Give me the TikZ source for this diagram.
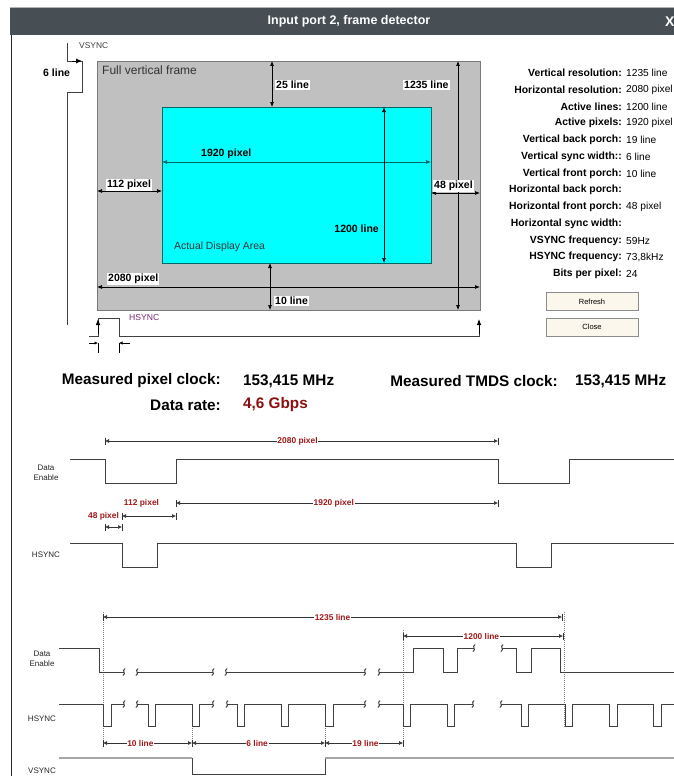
\documentclass[tikz,border=0pt]{standalone}
\usepackage{fontspec}
\setmainfont{Liberation Sans}
\usetikzlibrary{arrows.meta}
\definecolor{titlebar}{HTML}{474F54}
\definecolor{framegray}{HTML}{C0C0C0}
\definecolor{frameedge}{HTML}{7A7A7A}
\definecolor{dimred}{HTML}{A01818}
\definecolor{valred}{HTML}{8B1010}
\definecolor{tealedge}{HTML}{006666}
\definecolor{areacyan}{HTML}{00FFFF}
\definecolor{btnfill}{HTML}{FCF7EC}
\definecolor{syncpurple}{HTML}{7A2A7A}
\newcommand{\wbrk}[2]{\draw[wv, line width=1pt] (#1-1.2,#2+3.5) .. controls (#1+3,#2+1.5) and (#1-3,#2-1.5) .. (#1+1.2,#2-3.5);}
\newcommand{\tdim}[6]{%
  \draw[dimln] (#1,#3) -- node[dimlbl, pos=#6] (#5) {#4} (#2,#3);
  \draw[dimbar] (#1,#3-3.5) -- (#1,#3+3.5);
  \draw[dimbar] (#2,#3-3.5) -- (#2,#3+3.5);}
\newcommand{\tdimn}[3]{%
  \draw[dimln] (#1,#3) -- (#2,#3);
  \draw[dimbar] (#1,#3-3.5) -- (#1,#3+3.5);
  \draw[dimbar] (#2,#3-3.5) -- (#2,#3+3.5);}
\begin{document}
\begin{tikzpicture}[x=1pt,y=-1pt,
  wv/.style={draw=black!75, line width=0.9pt},
  dimtop/.style={line width=0.7pt, {Latex[length=5pt,width=4pt]}-{Latex[length=5pt,width=4pt]}},
  toplbl/.style={font=\bfseries\fontsize{10.5}{12}\selectfont, inner sep=1pt},
  bgl/.style={toplbl, fill=white},
  tlbl/.style={font=\fontsize{8}{10}\selectfont, text=black!85, align=center, inner sep=0},
  dimln/.style={line width=0.6pt, black!80, {Latex[length=4pt,width=4pt]}-{Latex[length=4pt,width=4pt]}},
  dimbar/.style={line width=0.8pt, black!80},
  dimlbl/.style={font=\bfseries\fontsize{8.4}{10}\selectfont, text=dimred, fill=white, inner sep=0.8pt},
  dotl/.style={draw=gray, line width=0.6pt, dash pattern=on 1pt off 1pt},
  tabl/.style={font=\bfseries\fontsize{10.4}{12}\selectfont, anchor=east, inner sep=0},
  tabv/.style={font=\fontsize{10.2}{12}\selectfont, anchor=west, inner sep=0},
  btn/.style={draw=black!45, fill=btnfill, minimum width=92pt, minimum height=18pt, font=\fontsize{7.5}{9}\selectfont, inner sep=0},
  bigtxt/.style={font=\bfseries\fontsize{15.3}{18}\selectfont, inner sep=0}]
\useasboundingbox (0,0) rectangle (674,776);
\fill[white] (0,0) rectangle (674,776);
% window
\fill[titlebar] (10,8) rectangle (674,35);
\draw[black!30, line width=0.8pt] (10,7) -- (674,7);
\draw[black!85, line width=1.4pt] (11.5,35) -- (11.5,776);
\node[font=\bfseries\fontsize{12.5}{14}\selectfont, text=white] (title) at (349,21.5) {Input port 2, frame detector};
\node[font=\bfseries\fontsize{14}{16}\selectfont, text=white, anchor=west, inner sep=0] (closex) at (665,22) {X};
% top VSYNC
\node[font=\fontsize{8.4}{10}\selectfont, anchor=west, inner sep=0, text=black!75] (vsynclbl) at (79,46) {VSYNC};
\draw[wv, line width=0.8pt] (67,43) -- (67,61) -- (82,61) -- (82,92) -- (67,92) -- (67,325);
\coordinate (va) at (72,61); \coordinate (vb) at (82,61);
\draw[-{Latex[length=6pt,width=5pt]}, line width=0.8pt] (va) -- (vb);
\node[toplbl, anchor=west] (sixline) at (42,73) {6 line};
% frame
\draw[fill=framegray, draw=frameedge, line width=0.8pt] (97,61) rectangle (480,310);
\node[font=\fontsize{12}{14}\selectfont, anchor=west, text=black!80, inner sep=0] (fvf) at (102,70) {Full vertical frame};
\draw[fill=areacyan, draw=tealedge, line width=0.8pt] (162,107) rectangle (431,263);
\node[font=\fontsize{10.4}{12}\selectfont, anchor=west, inner sep=0, text=black!80] (ada) at (174,247) {Actual Display Area};
\coordinate (a25t) at (272,61); \coordinate (a25b) at (272,107);
\draw[dimtop] (a25t) -- (a25b);
\node[bgl, anchor=west] (l25) at (275,85) {25 line};
\coordinate (a1235t) at (458,61); \coordinate (a1235b) at (458,310);
\draw[dimtop] (a1235t) -- (a1235b);
\node[bgl, anchor=west] (l1235) at (403,85) {1235 line};
\coordinate (a1920l) at (162,162); \coordinate (a1920r) at (431,162);
\draw[dimtop, tealedge] (a1920l) -- (a1920r);
\node[toplbl, anchor=west] (l1920) at (200,154) {1920 pixel};
\coordinate (a1200t) at (384,107); \coordinate (a1200b) at (384,263);
\draw[dimtop] (a1200t) -- (a1200b);
\node[toplbl, anchor=east] (l1200) at (380,229) {1200 line};
\coordinate (a112l) at (97,191); \coordinate (a112r) at (162,191);
\draw[dimtop] (a112l) -- (a112r);
\node[bgl, anchor=west] (l112) at (106,185) {112 pixel};
\coordinate (a48l) at (431,193); \coordinate (a48r) at (480,193);
\draw[dimtop] (a48l) -- (a48r);
\node[bgl, anchor=west] (l48) at (433,186) {48 pixel};
\coordinate (a2080l) at (97,287); \coordinate (a2080r) at (480,287);
\draw[dimtop] (a2080l) -- (a2080r);
\node[bgl, anchor=west] (l2080) at (107,279) {2080 pixel};
\coordinate (a10t) at (270,263); \coordinate (a10b) at (270,310);
\draw[dimtop] (a10t) -- (a10b);
\node[bgl, anchor=west] (l10) at (274,301) {10 line};
% small HSYNC
\node[font=\fontsize{8.6}{10}\selectfont, anchor=west, inner sep=0, text=syncpurple] (hsynclbl) at (129,318) {HSYNC};
\draw[wv, line width=0.8pt] (89,336) -- (98,336) -- (98,318) -- (119,318) -- (119,336) -- (479,336) -- (479,321);
\coordinate (h1a) at (98,334); \coordinate (h1b) at (98,319);
\draw[-{Latex[length=6pt,width=4.5pt]}, line width=0.8pt] (h1a) -- (h1b);
\coordinate (h2a) at (479,334); \coordinate (h2b) at (479,319);
\draw[-{Latex[length=6pt,width=4.5pt]}, line width=0.8pt] (h2a) -- (h2b);
\draw[line width=0.8pt] (98,343) -- (98,353) (119,343) -- (119,353);
\coordinate (t1a) at (89,343); \coordinate (t1b) at (98,343);
\draw[-{Latex[length=3.5pt,width=3.5pt]}, line width=0.7pt] (t1a) -- (t1b);
\coordinate (t2a) at (130,343); \coordinate (t2b) at (119,343);
\draw[-{Latex[length=3.5pt,width=3.5pt]}, line width=0.7pt] (t2a) -- (t2b);
% right table
\node[tabl] (k1) at (622,73) {Vertical resolution:};      \node[tabv] (v1) at (626,73) {1235 line};
\node[tabl] (k2) at (622,89.75) {Horizontal resolution:}; \node[tabv] (v2) at (626,89.75) {2080 pixel};
\node[tabl] (k3) at (622,106.5) {Active lines:};          \node[tabv] (v3) at (626,106.5) {1200 line};
\node[tabl] (k4) at (622,123.25) {Active pixels:};        \node[tabv] (v4) at (626,123.25) {1920 pixel};
\node[tabl] (k5) at (622,140) {Vertical back porch:};     \node[tabv] (v5) at (626,140) {19 line};
\node[tabl] (k6) at (622,156.75) {Vertical sync width::}; \node[tabv] (v6) at (626,156.75) {6 line};
\node[tabl] (k7) at (622,173.5) {Vertical front porch:};  \node[tabv] (v7) at (626,173.5) {10 line};
\node[tabl] (k8) at (622,190.25) {Horizontal back porch:};
\node[tabl] (k9) at (622,207) {Horizontal front porch:};  \node[tabv] (v9) at (626,207) {48 pixel};
\node[tabl] (k10) at (622,223.75) {Horizontal sync width:};
\node[tabl] (k11) at (622,240.5) {VSYNC frequency:};      \node[tabv] (v11) at (626,240.5) {59Hz};
\node[tabl] (k12) at (622,257.25) {HSYNC frequency:};     \node[tabv] (v12) at (626,257.25) {73,8kHz};
\node[tabl] (k13) at (622,274) {Bits per pixel:};         \node[tabv] (v13) at (626,274) {24};
\node[btn] (refresh) at (592,301.5) {Refresh};
\node[btn] (close) at (592,327) {Close};
% measurements
\node[bigtxt, anchor=east] (mpcl) at (221,381) {Measured pixel clock:};
\node[bigtxt, anchor=west] (mpcv) at (243,381) {153,415 MHz};
\node[bigtxt, anchor=east] (drl) at (221,405) {Data rate:};
\node[bigtxt, anchor=west, text=valred] (drv) at (243,405) {4,6 Gbps};
\node[bigtxt, anchor=east] (mtl) at (558,381) {Measured TMDS clock:};
\node[bigtxt, anchor=west] (mtv) at (575,381) {153,415 MHz};
% timing diagram 1
\tdim{105}{498}{441}{2080 pixel}{d2080}{0.49}
\node[tlbl] (de1) at (46,472.5) {Data\\Enable};
\draw[wv] (70,459) -- (105,459) -- (105,483) -- (176,483) -- (176,459) -- (498,459) -- (498,483) -- (569,483) -- (569,459) -- (674,459);
\tdim{176}{498}{503}{1920 pixel}{d1920}{0.49}
\node[dimlbl] (l112b) at (141.5,503) {112 pixel};
\tdimn{122}{176}{516}
\node[dimlbl] (l48b) at (103.5,516) {48 pixel};
\tdimn{105}{122}{527}
\node[tlbl] (hs1) at (46,555) {HSYNC};
\draw[wv] (70,543) -- (122,543) -- (122,567) -- (157,567) -- (157,543) -- (516,543) -- (516,567) -- (551,567) -- (551,543) -- (674,543);
% timing diagram 2
\draw[dotl] (103,612) -- (103,748);
\draw[dotl] (192,704) -- (192,748);
\draw[dotl] (325,704) -- (325,748);
\draw[dotl] (403,630) -- (403,748);
\draw[dotl] (564,612) -- (564,728);
\tdim{103}{562}{617}{1235 line}{d1235}{0.5}
\tdim{403}{563}{636}{1200 line}{d1200}{0.49}
\node[tlbl] (de2) at (42,659) {Data\\Enable};
\draw[wv] (59,648) -- (99,648) -- (99,672) -- (124,672);
\draw[wv] (137,672) -- (213,672);
\draw[wv] (226,672) -- (365,672);
\draw[wv] (379,672) -- (413,672) -- (413,648) -- (443,648) -- (443,672) -- (457,672) -- (457,648) -- (474,648);
\draw[wv] (502,648) -- (516,648) -- (516,672) -- (531,672) -- (531,648) -- (560,648) -- (560,672) -- (674,672);
\wbrk{124}{672}\wbrk{137}{672}\wbrk{213}{672}\wbrk{226}{672}\wbrk{365}{672}\wbrk{379}{672}
\wbrk{474}{648}\wbrk{502}{648}
\node[tlbl] (hs2) at (42,719) {HSYNC};
\draw[wv] (59,704) -- (103,704) -- (103,726) -- (111,726) -- (111,704) -- (124,704);
\draw[wv] (137,704) -- (148,704) -- (148,726) -- (155,726) -- (155,704) -- (192,704) -- (192,726) -- (199,726) -- (199,704) -- (213,704);
\draw[wv] (227,704) -- (237,704) -- (237,726) -- (244,726) -- (244,704) -- (281,704) -- (281,726) -- (288,726) -- (288,704) -- (325,704) -- (325,726) -- (333,726) -- (333,704) -- (365,704);
\draw[wv] (379,704) -- (403,704) -- (403,726) -- (410,726) -- (410,704) -- (447,704) -- (447,726) -- (454,726) -- (454,704) -- (473,704);
\draw[wv] (501,704) -- (521,704) -- (521,726) -- (528,726) -- (528,704) -- (565,704) -- (565,726) -- (572,726) -- (572,704) -- (609,704) -- (609,726) -- (617,726) -- (617,704) -- (653,704) -- (653,726) -- (661,726) -- (661,704) -- (674,704);
\wbrk{124}{704}\wbrk{137}{704}\wbrk{213}{704}\wbrk{227}{704}\wbrk{365}{704}\wbrk{379}{704}\wbrk{473}{704}\wbrk{501}{704}
\tdim{103}{192}{743}{10 line}{d10}{0.42}
\tdim{192}{325}{743}{6 line}{d6}{0.49}
\tdim{325}{403}{743}{19 line}{d19}{0.52}
\node[tlbl] (vs2) at (42,771) {VSYNC};
\draw[draw=black!35, line width=1.4pt] (59,758) -- (192,758);
\draw[wv] (192,758) -- (192,774) -- (325,774) -- (325,758);
\draw[draw=black!35, line width=1.4pt] (325,758) -- (674,758);
\end{tikzpicture}
\end{document}
